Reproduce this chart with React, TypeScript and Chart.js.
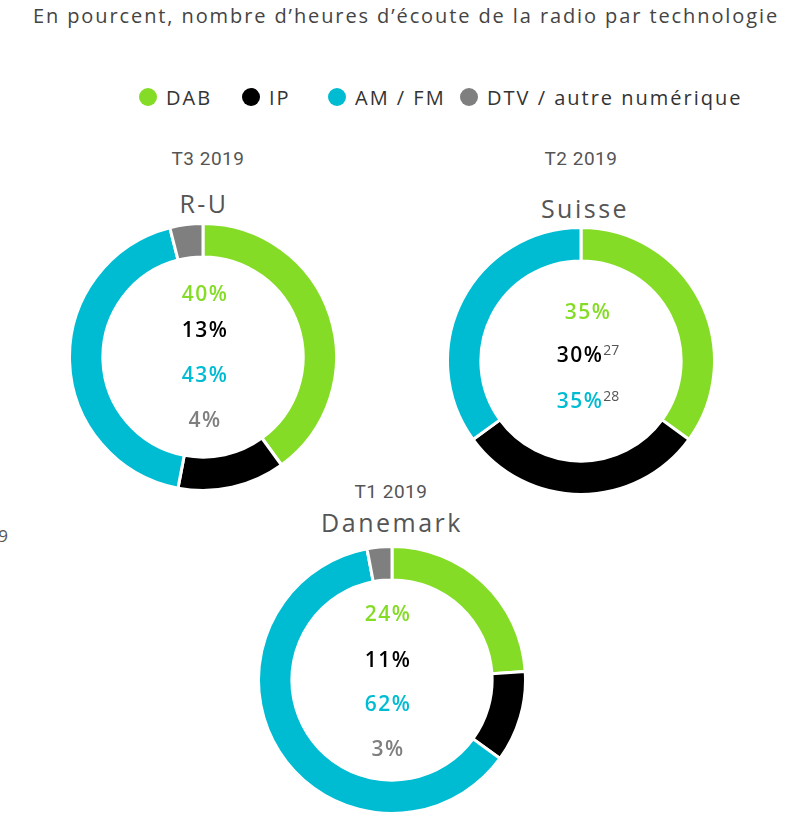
import React, { useEffect, useRef } from "react";
import { Chart, registerables } from "chart.js";

Chart.register(...registerables);

const technologies = ["DAB", "IP", "AM / FM", "DTV / autre numérique"];
const techColors = ["#85DC27", "#000000", "#00BCD3", "#7F7F7F"];
const textColors = ["#85DC27", "#000000", "#00BCD3", "#7F7F7F"];

const ruValues = [40, 13, 43, 4];
const suisseValues = [35, 30, 35];
const danemarkValues = [24, 11, 62, 3];

const title = "En pourcent, nombre d’heures d’écoute de la radio par technologie";
const FONT = "'Open Sans', 'Noto Sans', sans-serif";

type DonutProps = {
  values: number[];
  cx: number;
  cy: number;
  size: number;
};

function Donut({ values, cx, cy, size }: DonutProps) {
  const ref = useRef<HTMLCanvasElement | null>(null);
  useEffect(() => {
    if (!ref.current) return;
    const chart = new Chart(ref.current, {
      type: "doughnut",
      data: {
        labels: technologies.slice(0, values.length),
        datasets: [
          {
            data: values,
            backgroundColor: techColors.slice(0, values.length),
            borderColor: "#ffffff",
            borderWidth: 3,
            hoverOffset: 0,
          },
        ],
      },
      options: {
        responsive: false,
        animation: false,
        cutout: "75%",
        layout: { padding: 0 },
        plugins: {
          legend: { display: false },
          tooltip: { enabled: false },
          title: { display: false },
        },
        events: [],
      },
    });
    return () => chart.destroy();
  }, [values]);
  return (
    <canvas
      ref={ref}
      width={size}
      height={size}
      style={{ position: "absolute", left: cx - size / 2, top: cy - size / 2, width: size, height: size }}
    />
  );
}

function Txt(props: {
  x: number;
  y: number;
  size: number;
  color: string;
  weight?: number;
  family?: string;
  children: React.ReactNode;
  ls?: number;
}) {
  return (
    <div
      style={{
        position: "absolute",
        left: props.x,
        top: props.y,
        transform: "translate(-50%, -50%)",
        whiteSpace: "nowrap",
        fontFamily: props.family || FONT,
        fontSize: props.size,
        fontWeight: props.weight || 400,
        color: props.color,
        letterSpacing: props.ls || 0,
        lineHeight: 1,
      }}
    >
      {props.children}
    </div>
  );
}

function CenterLabels({ values, x, ys, sups }: { values: number[]; x: number; ys: number[]; sups?: (string | null)[] }) {
  return (
    <>
      {values.map((v, i) => (
        <Txt key={i} x={x} y={ys[i]} size={21} weight={600} color={textColors[i]} ls={1.5}>
          {v}%
          {sups && sups[i] ? (
            <sup style={{ fontSize: 14, fontWeight: 400, color: "#555", verticalAlign: "7px", letterSpacing: 0 }}>{sups[i]}</sup>
          ) : null}
        </Txt>
      ))}
    </>
  );
}

const legendDotX = [148, 251, 337, 469];

export default function App() {
  return (
    <div style={{ position: "absolute", left: 0, top: 0, width: 795, height: 836, background: "#fff", overflow: "hidden" }}>
      <Txt x={406} y={16} size={20} color="#444" ls={1.9}>
        {title}
      </Txt>

      {technologies.map((t, i) => (
        <div
          key={t}
          style={{
            position: "absolute",
            left: legendDotX[i] - 9,
            top: 97 - 11,
            height: 22,
            display: "flex",
            alignItems: "center",
            whiteSpace: "nowrap",
            fontFamily: FONT,
            fontSize: 20,
            color: "#333",
            letterSpacing: 2,
          }}
        >
          <span
            style={{ display: "inline-block", width: 18, height: 18, borderRadius: 9, background: techColors[i], marginRight: 9 }}
          />
          {t}
        </div>
      ))}

      <Txt x={3} y={535} size={17} color="#555">9</Txt>

      <Txt x={208} y={158} size={19} color="#555" family="Roboto, sans-serif" ls={0.5}>T3 2019</Txt>
      <Txt x={204} y={203} size={25} color="#555" ls={2.5}>R-U</Txt>
      <Donut values={ruValues} cx={203} cy={357} size={270} />
      <CenterLabels values={ruValues} x={205} ys={[293, 329, 374, 419]} />

      <Txt x={581} y={158} size={19} color="#555" family="Roboto, sans-serif" ls={0.5}>T2 2019</Txt>
      <Txt x={585} y={208} size={25} color="#555" ls={2.5}>Suisse</Txt>
      <Donut values={suisseValues} cx={581} cy={361} size={270} />
      <CenterLabels values={suisseValues} x={588} ys={[311, 354, 400]} sups={[null, "27", "28"]} />

      <Txt x={391} y={491} size={19} color="#555" family="Roboto, sans-serif" ls={0.5}>T1 2019</Txt>
      <Txt x={392} y={522} size={25} color="#555" ls={2.5}>Danemark</Txt>
      <Donut values={danemarkValues} cx={392} cy={680} size={270} />
      <CenterLabels values={danemarkValues} x={388} ys={[613, 659, 703, 748]} />
    </div>
  );
}
